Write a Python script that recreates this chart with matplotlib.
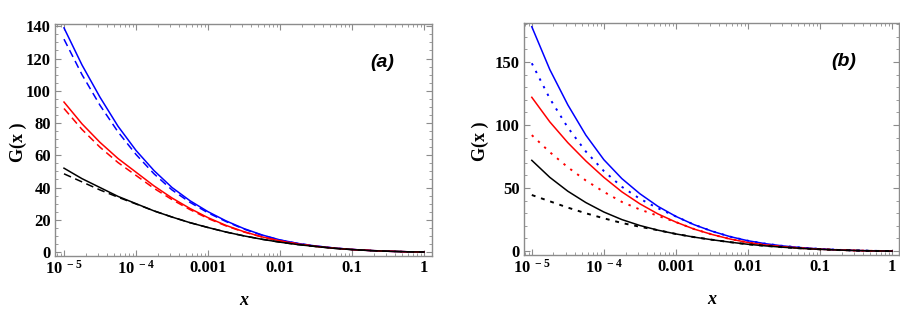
import numpy as np
import matplotlib
matplotlib.use('Agg')
import matplotlib.pyplot as plt
from matplotlib.ticker import FixedLocator, FixedFormatter, MultipleLocator, LogLocator, NullFormatter

plt.rcParams['font.family'] = 'Liberation Serif'
plt.rcParams['font.weight'] = 'bold'
plt.rcParams['mathtext.fontset'] = 'custom'
plt.rcParams['mathtext.rm'] = 'Liberation Serif:bold'
plt.rcParams['mathtext.it'] = 'Liberation Serif:italic:bold'

# exponents of x (x = 10**log_x), read every quarter decade
log_x = [-5, -4.75, -4.5, -4.25, -4, -3.75, -3.5, -3.25, -3, -2.75, -2.5,
         -2.25, -2, -1.75, -1.5, -1.25, -1, -0.75, -0.5, -0.25, 0]

# panel (a)
a_blue = [139, 116, 96, 78, 63, 50.5, 40, 31.8, 25, 19.3, 14.5,
          10.6, 7.5, 5.3, 3.7, 2.5, 1.6, 0.95, 0.5, 0.18, 0]
a_blue_d = [132, 110, 91, 74.5, 60.5, 48.5, 38.5, 30.8, 24.3, 18.9, 14.2,
            10.4, 7.4, 5.3, 3.7, 2.5, 1.6, 0.95, 0.5, 0.18, 0]
a_red = [93, 79.5, 68, 58, 49.5, 41, 33.5, 27, 21.3, 16.5, 12.6,
         9.4, 6.9, 5.0, 3.5, 2.4, 1.55, 0.95, 0.5, 0.18, 0]
a_red_d = [89, 76, 65, 55.5, 47.5, 39.5, 32.5, 26.3, 20.8, 16.2, 12.4,
           9.3, 6.8, 5.0, 3.5, 2.4, 1.55, 0.95, 0.5, 0.18, 0]
a_black = [52, 45.5, 40, 34.5, 30, 25.5, 21.7, 18.2, 15.2, 12.4, 10,
           7.9, 6.1, 4.6, 3.4, 2.3, 1.5, 0.9, 0.48, 0.17, 0]
a_black_d = [48.5, 43.5, 38.5, 34, 29.8, 25.5, 21.7, 18.2, 15.2, 12.4, 10,
             7.9, 6.1, 4.6, 3.4, 2.3, 1.5, 0.9, 0.48, 0.17, 0]

# panel (b)
b_blue = [178, 144, 116, 92, 72.5, 57.5, 45.5, 35.5, 27.5, 21, 15.8,
          11.5, 8.2, 5.8, 4.0, 2.7, 1.7, 1.0, 0.5, 0.17, 0]
b_blue_d = [149, 121, 98, 79, 63.5, 51, 41.5, 34, 27.5, 21, 15.8,
            11.5, 8.2, 5.8, 4.0, 2.7, 1.7, 1.0, 0.5, 0.17, 0]
b_red = [122, 102.5, 86, 71.5, 58.5, 47, 37.5, 29.5, 23, 17.5, 13.2,
         9.6, 6.8, 4.8, 3.4, 2.3, 1.5, 0.9, 0.45, 0.15, 0]
b_red_d = [92, 78.5, 66.5, 56, 47, 39, 33, 28, 23, 17.5, 13.2,
           9.6, 6.8, 4.8, 3.4, 2.3, 1.5, 0.9, 0.45, 0.15, 0]
b_black = [72, 58.5, 47.5, 38.5, 31, 25, 20.3, 16.6, 13.6, 11.1, 9,
           7.1, 5.4, 4.1, 3.0, 2.1, 1.4, 0.85, 0.42, 0.15, 0]
b_black_d = [44.5, 39.5, 34.5, 30, 26, 22.3, 19.3, 16.6, 13.6, 11.1, 9,
             7.1, 5.4, 4.1, 3.0, 2.1, 1.4, 0.85, 0.42, 0.15, 0]

xtick_pos = [1e-5, 1e-4, 1e-3, 1e-2, 1e-1, 1]
xtick_lab = [r'$10^{\ -5}$', r'$10^{\ -4}$', '0.001', '0.01', '0.1', '1']

x = 10.0 ** np.array(log_x)

fig = plt.figure(figsize=(9, 3.1), dpi=100)
ax1 = fig.add_axes([0.0611, 0.174, 0.419, 0.748])
ax2 = fig.add_axes([0.582, 0.177, 0.417, 0.749])

frame_col = '#8c8c8c'


def style(ax, ylim, ymaj, ymin, xlim, tag, tagpos, ylab_x):
    ax.set_xscale('log')
    ax.set_xlim(*xlim)
    ax.set_ylim(*ylim)
    ax.xaxis.set_major_locator(FixedLocator(xtick_pos))
    ax.xaxis.set_major_formatter(FixedFormatter(xtick_lab))
    ax.xaxis.set_minor_locator(LogLocator(base=10, subs=np.arange(2, 10), numticks=20))
    ax.xaxis.set_minor_formatter(NullFormatter())
    ax.yaxis.set_major_locator(MultipleLocator(ymaj))
    ax.yaxis.set_minor_locator(MultipleLocator(ymin))
    for s in ax.spines.values():
        s.set_color(frame_col)
        s.set_linewidth(1.0)
    ax.tick_params(which='both', direction='in', top=True, right=True,
                   color=frame_col, labelsize=12, pad=3)
    ax.tick_params(which='major', length=4, width=0.8)
    ax.tick_params(which='minor', length=2, width=0.6)
    for lab in ax.get_xticklabels() + ax.get_yticklabels():
        lab.set_fontweight('bold')
    ax.set_xlabel('x', fontsize=13, fontstyle='italic', fontweight='bold', labelpad=10)
    ax.set_ylabel('G(x )', fontsize=13, fontweight='bold')
    ax.yaxis.set_label_coords(ylab_x, 0.49)
    ax.text(tagpos[0], tagpos[1], tag, transform=ax.transAxes, ha='center', va='center',
            fontsize=14, fontstyle='italic', fontweight='bold', family='Liberation Sans')


lw = 1.1
ax1.plot(x, a_blue, color='blue', lw=lw)
ax1.plot(x, a_blue_d, color='blue', lw=lw, ls=(0, (5, 3)))
ax1.plot(x, a_red, color='red', lw=lw)
ax1.plot(x, a_red_d, color='red', lw=lw, ls=(0, (5, 3)))
ax1.plot(x, a_black, color='black', lw=lw)
ax1.plot(x, a_black_d, color='black', lw=lw, ls=(0, (5, 3)))
style(ax1, (-2.5, 141.3), 20, 5, (10 ** -5.125, 10 ** 0.111), '(a)', (0.867, 0.836), -0.075)

ax2.plot(x, b_blue, color='blue', lw=lw)
ax2.plot(x, b_blue_d, color='blue', lw=lw + 0.3, ls=(0, (1.2, 3.2)))
ax2.plot(x, b_red, color='red', lw=lw)
ax2.plot(x, b_red_d, color='red', lw=lw + 0.3, ls=(0, (1.2, 3.2)))
ax2.plot(x, b_black, color='black', lw=lw)
ax2.plot(x, b_black_d, color='black', lw=lw + 0.3, ls=(0, (2, 3)))
style(ax2, (-3.2, 181), 50, 10, (10 ** -5.111, 10 ** 0.097), '(b)', (0.853, 0.832), -0.093)

fig.savefig('out.png', dpi=100)
